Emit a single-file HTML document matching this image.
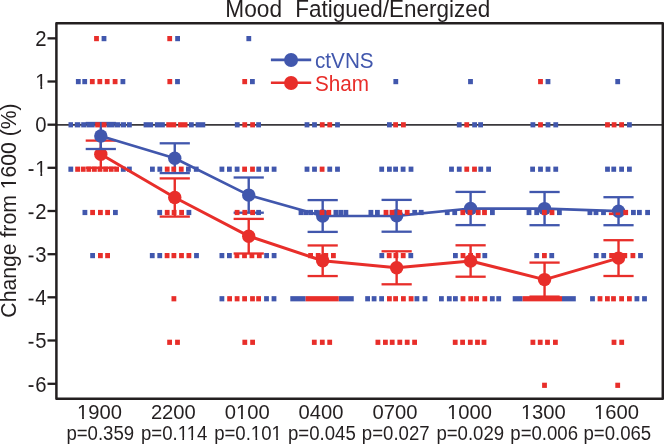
<!DOCTYPE html><html><head><meta charset="utf-8"><style>html,body{margin:0;padding:0;background:#fff;}svg{display:block;will-change:transform;}text{font-family:"Liberation Sans",sans-serif;}</style></head><body>
<svg width="664" height="444" viewBox="0 0 664 444">
<rect width="664" height="444" fill="#fff"/>
<text transform="translate(225.3,16.5) scale(1,1.07)" font-size="22.7" fill="#231f20">Mood</text>
<text transform="translate(295.2,16.5) scale(1,1.07)" font-size="22.5" fill="#231f20">Fatigued/Energized</text>
<line x1="56" y1="124.85" x2="663" y2="124.85" stroke="#3a383c" stroke-width="1.6"/>
<rect x="101.60" y="36.00" width="4.8" height="5.2" fill="#4157ad"/>
<rect x="75.90" y="79.00" width="4.8" height="5.2" fill="#4157ad"/>
<rect x="82.30" y="79.00" width="4.8" height="5.2" fill="#4157ad"/>
<rect x="120.50" y="79.00" width="4.8" height="5.2" fill="#4157ad"/>
<rect x="68.40" y="166.60" width="4.8" height="5.2" fill="#4157ad"/>
<rect x="120.90" y="166.60" width="4.8" height="5.2" fill="#4157ad"/>
<rect x="127.00" y="166.60" width="4.8" height="5.2" fill="#4157ad"/>
<rect x="82.50" y="209.90" width="4.8" height="5.2" fill="#4157ad"/>
<rect x="113.00" y="209.90" width="4.8" height="5.2" fill="#4157ad"/>
<rect x="90.20" y="253.00" width="4.8" height="5.2" fill="#4157ad"/>
<rect x="175.20" y="36.00" width="4.8" height="5.2" fill="#4157ad"/>
<rect x="175.10" y="79.00" width="4.8" height="5.2" fill="#4157ad"/>
<rect x="150.00" y="166.60" width="4.8" height="5.2" fill="#4157ad"/>
<rect x="157.40" y="166.60" width="4.8" height="5.2" fill="#4157ad"/>
<rect x="186.00" y="166.60" width="4.8" height="5.2" fill="#4157ad"/>
<rect x="193.85" y="166.60" width="4.8" height="5.2" fill="#4157ad"/>
<rect x="157.30" y="209.90" width="4.8" height="5.2" fill="#4157ad"/>
<rect x="186.50" y="209.90" width="4.8" height="5.2" fill="#4157ad"/>
<rect x="149.85" y="253.00" width="4.8" height="5.2" fill="#4157ad"/>
<rect x="157.35" y="253.00" width="4.8" height="5.2" fill="#4157ad"/>
<rect x="194.10" y="253.00" width="4.8" height="5.2" fill="#4157ad"/>
<rect x="246.40" y="36.00" width="4.8" height="5.2" fill="#4157ad"/>
<rect x="250.00" y="79.00" width="4.8" height="5.2" fill="#4157ad"/>
<rect x="234.85" y="122.20" width="4.8" height="5.2" fill="#4157ad"/>
<rect x="256.20" y="122.20" width="4.8" height="5.2" fill="#4157ad"/>
<rect x="219.50" y="166.60" width="4.8" height="5.2" fill="#4157ad"/>
<rect x="227.00" y="166.60" width="4.8" height="5.2" fill="#4157ad"/>
<rect x="234.70" y="166.60" width="4.8" height="5.2" fill="#4157ad"/>
<rect x="256.35" y="166.60" width="4.8" height="5.2" fill="#4157ad"/>
<rect x="264.20" y="166.60" width="4.8" height="5.2" fill="#4157ad"/>
<rect x="271.70" y="166.60" width="4.8" height="5.2" fill="#4157ad"/>
<rect x="256.20" y="209.90" width="4.8" height="5.2" fill="#4157ad"/>
<rect x="219.50" y="253.00" width="4.8" height="5.2" fill="#4157ad"/>
<rect x="227.00" y="253.00" width="4.8" height="5.2" fill="#4157ad"/>
<rect x="264.20" y="253.00" width="4.8" height="5.2" fill="#4157ad"/>
<rect x="271.70" y="253.00" width="4.8" height="5.2" fill="#4157ad"/>
<rect x="219.50" y="296.15" width="4.8" height="5.2" fill="#4157ad"/>
<rect x="264.10" y="296.15" width="4.8" height="5.2" fill="#4157ad"/>
<rect x="271.60" y="296.15" width="4.8" height="5.2" fill="#4157ad"/>
<rect x="304.60" y="122.20" width="4.8" height="5.2" fill="#4157ad"/>
<rect x="312.10" y="122.20" width="4.8" height="5.2" fill="#4157ad"/>
<rect x="335.10" y="122.20" width="4.8" height="5.2" fill="#4157ad"/>
<rect x="304.60" y="166.60" width="4.8" height="5.2" fill="#4157ad"/>
<rect x="312.10" y="166.60" width="4.8" height="5.2" fill="#4157ad"/>
<rect x="327.35" y="166.60" width="4.8" height="5.2" fill="#4157ad"/>
<rect x="335.10" y="166.60" width="4.8" height="5.2" fill="#4157ad"/>
<rect x="298.60" y="209.90" width="4.8" height="5.2" fill="#4157ad"/>
<rect x="303.40" y="209.90" width="4.8" height="5.2" fill="#4157ad"/>
<rect x="308.20" y="209.90" width="4.8" height="5.2" fill="#4157ad"/>
<rect x="314.10" y="209.90" width="4.8" height="5.2" fill="#4157ad"/>
<rect x="333.50" y="209.90" width="4.8" height="5.2" fill="#4157ad"/>
<rect x="338.40" y="209.90" width="4.8" height="5.2" fill="#4157ad"/>
<rect x="343.50" y="209.90" width="4.8" height="5.2" fill="#4157ad"/>
<rect x="393.40" y="79.00" width="4.8" height="5.2" fill="#4157ad"/>
<rect x="387.00" y="122.20" width="4.8" height="5.2" fill="#4157ad"/>
<rect x="379.30" y="166.60" width="4.8" height="5.2" fill="#4157ad"/>
<rect x="387.00" y="166.60" width="4.8" height="5.2" fill="#4157ad"/>
<rect x="393.20" y="166.60" width="4.8" height="5.2" fill="#4157ad"/>
<rect x="400.70" y="166.60" width="4.8" height="5.2" fill="#4157ad"/>
<rect x="408.60" y="166.60" width="4.8" height="5.2" fill="#4157ad"/>
<rect x="368.50" y="209.90" width="4.8" height="5.2" fill="#4157ad"/>
<rect x="375.00" y="209.90" width="4.8" height="5.2" fill="#4157ad"/>
<rect x="412.30" y="209.90" width="4.8" height="5.2" fill="#4157ad"/>
<rect x="418.80" y="209.90" width="4.8" height="5.2" fill="#4157ad"/>
<rect x="379.40" y="253.00" width="4.8" height="5.2" fill="#4157ad"/>
<rect x="408.40" y="253.00" width="4.8" height="5.2" fill="#4157ad"/>
<rect x="365.20" y="296.15" width="4.8" height="5.2" fill="#4157ad"/>
<rect x="371.70" y="296.15" width="4.8" height="5.2" fill="#4157ad"/>
<rect x="379.20" y="296.15" width="4.8" height="5.2" fill="#4157ad"/>
<rect x="414.50" y="296.15" width="4.8" height="5.2" fill="#4157ad"/>
<rect x="422.60" y="296.15" width="4.8" height="5.2" fill="#4157ad"/>
<rect x="468.10" y="79.00" width="4.8" height="5.2" fill="#4157ad"/>
<rect x="456.85" y="122.20" width="4.8" height="5.2" fill="#4157ad"/>
<rect x="472.20" y="122.20" width="4.8" height="5.2" fill="#4157ad"/>
<rect x="478.20" y="122.20" width="4.8" height="5.2" fill="#4157ad"/>
<rect x="449.10" y="166.60" width="4.8" height="5.2" fill="#4157ad"/>
<rect x="456.85" y="166.60" width="4.8" height="5.2" fill="#4157ad"/>
<rect x="478.35" y="166.60" width="4.8" height="5.2" fill="#4157ad"/>
<rect x="486.20" y="166.60" width="4.8" height="5.2" fill="#4157ad"/>
<rect x="444.85" y="209.90" width="4.8" height="5.2" fill="#4157ad"/>
<rect x="452.30" y="209.90" width="4.8" height="5.2" fill="#4157ad"/>
<rect x="490.00" y="209.90" width="4.8" height="5.2" fill="#4157ad"/>
<rect x="453.00" y="253.00" width="4.8" height="5.2" fill="#4157ad"/>
<rect x="482.40" y="253.00" width="4.8" height="5.2" fill="#4157ad"/>
<rect x="439.00" y="296.15" width="4.8" height="5.2" fill="#4157ad"/>
<rect x="446.90" y="296.15" width="4.8" height="5.2" fill="#4157ad"/>
<rect x="453.00" y="296.15" width="4.8" height="5.2" fill="#4157ad"/>
<rect x="489.90" y="296.15" width="4.8" height="5.2" fill="#4157ad"/>
<rect x="496.30" y="296.15" width="4.8" height="5.2" fill="#4157ad"/>
<rect x="545.60" y="79.00" width="4.8" height="5.2" fill="#4157ad"/>
<rect x="530.50" y="122.20" width="4.8" height="5.2" fill="#4157ad"/>
<rect x="545.60" y="122.20" width="4.8" height="5.2" fill="#4157ad"/>
<rect x="553.35" y="122.20" width="4.8" height="5.2" fill="#4157ad"/>
<rect x="530.20" y="166.60" width="4.8" height="5.2" fill="#4157ad"/>
<rect x="538.10" y="166.60" width="4.8" height="5.2" fill="#4157ad"/>
<rect x="545.60" y="166.60" width="4.8" height="5.2" fill="#4157ad"/>
<rect x="553.35" y="166.60" width="4.8" height="5.2" fill="#4157ad"/>
<rect x="526.60" y="209.90" width="4.8" height="5.2" fill="#4157ad"/>
<rect x="534.30" y="209.90" width="4.8" height="5.2" fill="#4157ad"/>
<rect x="557.00" y="209.90" width="4.8" height="5.2" fill="#4157ad"/>
<rect x="534.30" y="253.00" width="4.8" height="5.2" fill="#4157ad"/>
<rect x="549.35" y="253.00" width="4.8" height="5.2" fill="#4157ad"/>
<rect x="615.30" y="79.00" width="4.8" height="5.2" fill="#4157ad"/>
<rect x="627.00" y="122.20" width="4.8" height="5.2" fill="#4157ad"/>
<rect x="605.10" y="166.60" width="4.8" height="5.2" fill="#4157ad"/>
<rect x="611.35" y="166.60" width="4.8" height="5.2" fill="#4157ad"/>
<rect x="619.20" y="166.60" width="4.8" height="5.2" fill="#4157ad"/>
<rect x="627.00" y="166.60" width="4.8" height="5.2" fill="#4157ad"/>
<rect x="587.50" y="209.90" width="4.8" height="5.2" fill="#4157ad"/>
<rect x="593.60" y="209.90" width="4.8" height="5.2" fill="#4157ad"/>
<rect x="601.10" y="209.90" width="4.8" height="5.2" fill="#4157ad"/>
<rect x="631.00" y="209.90" width="4.8" height="5.2" fill="#4157ad"/>
<rect x="637.00" y="209.90" width="4.8" height="5.2" fill="#4157ad"/>
<rect x="645.20" y="209.90" width="4.8" height="5.2" fill="#4157ad"/>
<rect x="593.80" y="253.00" width="4.8" height="5.2" fill="#4157ad"/>
<rect x="601.30" y="253.00" width="4.8" height="5.2" fill="#4157ad"/>
<rect x="638.10" y="253.00" width="4.8" height="5.2" fill="#4157ad"/>
<rect x="590.10" y="296.15" width="4.8" height="5.2" fill="#4157ad"/>
<rect x="634.50" y="296.15" width="4.8" height="5.2" fill="#4157ad"/>
<rect x="642.10" y="296.15" width="4.8" height="5.2" fill="#4157ad"/>
<rect x="68.50" y="122.20" width="4.50" height="5.2" fill="#4157ad"/>
<rect x="74.80" y="122.20" width="5.50" height="5.2" fill="#4157ad"/>
<rect x="81.20" y="122.20" width="5.10" height="5.2" fill="#4157ad"/>
<rect x="86.60" y="122.20" width="8.10" height="5.2" fill="#4157ad"/>
<rect x="106.80" y="122.20" width="7.30" height="5.2" fill="#4157ad"/>
<rect x="114.40" y="122.20" width="5.70" height="5.2" fill="#4157ad"/>
<rect x="120.70" y="122.20" width="5.40" height="5.2" fill="#4157ad"/>
<rect x="127.00" y="122.20" width="4.80" height="5.2" fill="#4157ad"/>
<rect x="143.60" y="122.20" width="9.50" height="5.2" fill="#4157ad"/>
<rect x="154.90" y="122.20" width="9.95" height="5.2" fill="#4157ad"/>
<rect x="189.00" y="122.20" width="4.75" height="5.2" fill="#4157ad"/>
<rect x="195.60" y="122.20" width="9.65" height="5.2" fill="#4157ad"/>
<rect x="290.30" y="296.15" width="15.30" height="5.2" fill="#4157ad"/>
<rect x="338.75" y="296.15" width="15.00" height="5.2" fill="#4157ad"/>
<rect x="512.70" y="296.15" width="9.90" height="5.2" fill="#4157ad"/>
<rect x="562.00" y="296.15" width="13.80" height="5.2" fill="#4157ad"/>
<polyline points="100.80,154.20 174.76,197.50 248.72,236.20 322.68,260.75 396.64,267.80 470.60,261.00 544.56,279.60 618.52,258.10" fill="none" stroke="#e82e2a" stroke-width="3.0" stroke-linejoin="round"/>
<line x1="100.80" y1="140.60" x2="100.80" y2="167.80" stroke="#e82e2a" stroke-width="2.4"/>
<line x1="85.70" y1="140.60" x2="115.90" y2="140.60" stroke="#e82e2a" stroke-width="2.3"/>
<line x1="85.70" y1="167.80" x2="115.90" y2="167.80" stroke="#e82e2a" stroke-width="2.3"/>
<line x1="174.76" y1="178.40" x2="174.76" y2="216.60" stroke="#e82e2a" stroke-width="2.4"/>
<line x1="159.66" y1="178.40" x2="189.86" y2="178.40" stroke="#e82e2a" stroke-width="2.3"/>
<line x1="159.66" y1="216.60" x2="189.86" y2="216.60" stroke="#e82e2a" stroke-width="2.3"/>
<line x1="248.72" y1="218.90" x2="248.72" y2="253.50" stroke="#e82e2a" stroke-width="2.4"/>
<line x1="233.62" y1="218.90" x2="263.82" y2="218.90" stroke="#e82e2a" stroke-width="2.3"/>
<line x1="233.62" y1="253.50" x2="263.82" y2="253.50" stroke="#e82e2a" stroke-width="2.3"/>
<line x1="322.68" y1="245.45" x2="322.68" y2="276.05" stroke="#e82e2a" stroke-width="2.4"/>
<line x1="307.58" y1="245.45" x2="337.78" y2="245.45" stroke="#e82e2a" stroke-width="2.3"/>
<line x1="307.58" y1="276.05" x2="337.78" y2="276.05" stroke="#e82e2a" stroke-width="2.3"/>
<line x1="396.64" y1="251.30" x2="396.64" y2="284.30" stroke="#e82e2a" stroke-width="2.4"/>
<line x1="381.54" y1="251.30" x2="411.74" y2="251.30" stroke="#e82e2a" stroke-width="2.3"/>
<line x1="381.54" y1="284.30" x2="411.74" y2="284.30" stroke="#e82e2a" stroke-width="2.3"/>
<line x1="470.60" y1="245.30" x2="470.60" y2="276.70" stroke="#e82e2a" stroke-width="2.4"/>
<line x1="455.50" y1="245.30" x2="485.70" y2="245.30" stroke="#e82e2a" stroke-width="2.3"/>
<line x1="455.50" y1="276.70" x2="485.70" y2="276.70" stroke="#e82e2a" stroke-width="2.3"/>
<line x1="544.56" y1="262.60" x2="544.56" y2="296.60" stroke="#e82e2a" stroke-width="2.4"/>
<line x1="529.46" y1="262.60" x2="559.66" y2="262.60" stroke="#e82e2a" stroke-width="2.3"/>
<line x1="529.46" y1="296.60" x2="559.66" y2="296.60" stroke="#e82e2a" stroke-width="2.3"/>
<line x1="618.52" y1="240.20" x2="618.52" y2="276.00" stroke="#e82e2a" stroke-width="2.4"/>
<line x1="603.42" y1="240.20" x2="633.62" y2="240.20" stroke="#e82e2a" stroke-width="2.3"/>
<line x1="603.42" y1="276.00" x2="633.62" y2="276.00" stroke="#e82e2a" stroke-width="2.3"/>
<circle cx="100.80" cy="154.20" r="6.7" fill="#e82e2a"/>
<circle cx="174.76" cy="197.50" r="6.7" fill="#e82e2a"/>
<circle cx="248.72" cy="236.20" r="6.7" fill="#e82e2a"/>
<circle cx="322.68" cy="260.75" r="6.7" fill="#e82e2a"/>
<circle cx="396.64" cy="267.80" r="6.7" fill="#e82e2a"/>
<circle cx="470.60" cy="261.00" r="6.7" fill="#e82e2a"/>
<circle cx="544.56" cy="279.60" r="6.7" fill="#e82e2a"/>
<circle cx="618.52" cy="258.10" r="6.7" fill="#e82e2a"/>
<polyline points="100.80,136.00 174.76,158.20 248.72,195.10 322.68,216.00 396.64,215.80 470.60,208.50 544.56,208.60 618.52,211.20" fill="none" stroke="#4157ad" stroke-width="2.7" stroke-linejoin="round"/>
<line x1="100.80" y1="123.00" x2="100.80" y2="149.00" stroke="#4157ad" stroke-width="2.4"/>
<line x1="85.70" y1="123.00" x2="115.90" y2="123.00" stroke="#4157ad" stroke-width="2.3"/>
<line x1="85.70" y1="149.00" x2="115.90" y2="149.00" stroke="#4157ad" stroke-width="2.3"/>
<line x1="174.76" y1="143.30" x2="174.76" y2="173.10" stroke="#4157ad" stroke-width="2.4"/>
<line x1="159.66" y1="143.30" x2="189.86" y2="143.30" stroke="#4157ad" stroke-width="2.3"/>
<line x1="159.66" y1="173.10" x2="189.86" y2="173.10" stroke="#4157ad" stroke-width="2.3"/>
<line x1="248.72" y1="177.50" x2="248.72" y2="212.70" stroke="#4157ad" stroke-width="2.4"/>
<line x1="233.62" y1="177.50" x2="263.82" y2="177.50" stroke="#4157ad" stroke-width="2.3"/>
<line x1="233.62" y1="212.70" x2="263.82" y2="212.70" stroke="#4157ad" stroke-width="2.3"/>
<line x1="322.68" y1="200.10" x2="322.68" y2="231.90" stroke="#4157ad" stroke-width="2.4"/>
<line x1="307.58" y1="200.10" x2="337.78" y2="200.10" stroke="#4157ad" stroke-width="2.3"/>
<line x1="307.58" y1="231.90" x2="337.78" y2="231.90" stroke="#4157ad" stroke-width="2.3"/>
<line x1="396.64" y1="199.90" x2="396.64" y2="231.70" stroke="#4157ad" stroke-width="2.4"/>
<line x1="381.54" y1="199.90" x2="411.74" y2="199.90" stroke="#4157ad" stroke-width="2.3"/>
<line x1="381.54" y1="231.70" x2="411.74" y2="231.70" stroke="#4157ad" stroke-width="2.3"/>
<line x1="470.60" y1="191.90" x2="470.60" y2="225.10" stroke="#4157ad" stroke-width="2.4"/>
<line x1="455.50" y1="191.90" x2="485.70" y2="191.90" stroke="#4157ad" stroke-width="2.3"/>
<line x1="455.50" y1="225.10" x2="485.70" y2="225.10" stroke="#4157ad" stroke-width="2.3"/>
<line x1="544.56" y1="192.00" x2="544.56" y2="225.20" stroke="#4157ad" stroke-width="2.4"/>
<line x1="529.46" y1="192.00" x2="559.66" y2="192.00" stroke="#4157ad" stroke-width="2.3"/>
<line x1="529.46" y1="225.20" x2="559.66" y2="225.20" stroke="#4157ad" stroke-width="2.3"/>
<line x1="618.52" y1="197.20" x2="618.52" y2="225.20" stroke="#4157ad" stroke-width="2.4"/>
<line x1="603.42" y1="197.20" x2="633.62" y2="197.20" stroke="#4157ad" stroke-width="2.3"/>
<line x1="603.42" y1="225.20" x2="633.62" y2="225.20" stroke="#4157ad" stroke-width="2.3"/>
<circle cx="100.80" cy="136.00" r="6.7" fill="#4157ad"/>
<circle cx="174.76" cy="158.20" r="6.7" fill="#4157ad"/>
<circle cx="248.72" cy="195.10" r="6.7" fill="#4157ad"/>
<circle cx="322.68" cy="216.00" r="6.7" fill="#4157ad"/>
<circle cx="396.64" cy="215.80" r="6.7" fill="#4157ad"/>
<circle cx="470.60" cy="208.50" r="6.7" fill="#4157ad"/>
<circle cx="544.56" cy="208.60" r="6.7" fill="#4157ad"/>
<circle cx="618.52" cy="211.20" r="6.7" fill="#4157ad"/>
<rect x="94.10" y="36.00" width="4.8" height="5.2" fill="#e82e2a"/>
<rect x="89.90" y="79.00" width="4.8" height="5.2" fill="#e82e2a"/>
<rect x="97.40" y="79.00" width="4.8" height="5.2" fill="#e82e2a"/>
<rect x="104.80" y="79.00" width="4.8" height="5.2" fill="#e82e2a"/>
<rect x="112.70" y="79.00" width="4.8" height="5.2" fill="#e82e2a"/>
<rect x="75.20" y="166.60" width="4.8" height="5.2" fill="#e82e2a"/>
<rect x="80.80" y="166.60" width="4.8" height="5.2" fill="#e82e2a"/>
<rect x="86.40" y="166.60" width="4.8" height="5.2" fill="#e82e2a"/>
<rect x="92.00" y="166.60" width="4.8" height="5.2" fill="#e82e2a"/>
<rect x="97.60" y="166.60" width="4.8" height="5.2" fill="#e82e2a"/>
<rect x="103.20" y="166.60" width="4.8" height="5.2" fill="#e82e2a"/>
<rect x="108.80" y="166.60" width="4.8" height="5.2" fill="#e82e2a"/>
<rect x="114.20" y="166.60" width="4.8" height="5.2" fill="#e82e2a"/>
<rect x="90.20" y="209.90" width="4.8" height="5.2" fill="#e82e2a"/>
<rect x="98.00" y="209.90" width="4.8" height="5.2" fill="#e82e2a"/>
<rect x="105.20" y="209.90" width="4.8" height="5.2" fill="#e82e2a"/>
<rect x="98.00" y="253.00" width="4.8" height="5.2" fill="#e82e2a"/>
<rect x="105.20" y="253.00" width="4.8" height="5.2" fill="#e82e2a"/>
<rect x="167.30" y="36.00" width="4.8" height="5.2" fill="#e82e2a"/>
<rect x="167.40" y="79.00" width="4.8" height="5.2" fill="#e82e2a"/>
<rect x="164.80" y="166.60" width="4.8" height="5.2" fill="#e82e2a"/>
<rect x="171.35" y="166.60" width="4.8" height="5.2" fill="#e82e2a"/>
<rect x="178.85" y="166.60" width="4.8" height="5.2" fill="#e82e2a"/>
<rect x="164.80" y="209.90" width="4.8" height="5.2" fill="#e82e2a"/>
<rect x="171.70" y="209.90" width="4.8" height="5.2" fill="#e82e2a"/>
<rect x="179.20" y="209.90" width="4.8" height="5.2" fill="#e82e2a"/>
<rect x="164.70" y="253.00" width="4.8" height="5.2" fill="#e82e2a"/>
<rect x="171.50" y="253.00" width="4.8" height="5.2" fill="#e82e2a"/>
<rect x="179.10" y="253.00" width="4.8" height="5.2" fill="#e82e2a"/>
<rect x="186.50" y="253.00" width="4.8" height="5.2" fill="#e82e2a"/>
<rect x="171.50" y="296.15" width="4.8" height="5.2" fill="#e82e2a"/>
<rect x="167.20" y="339.70" width="4.8" height="5.2" fill="#e82e2a"/>
<rect x="175.10" y="339.70" width="4.8" height="5.2" fill="#e82e2a"/>
<rect x="242.30" y="79.00" width="4.8" height="5.2" fill="#e82e2a"/>
<rect x="242.35" y="122.20" width="4.8" height="5.2" fill="#e82e2a"/>
<rect x="250.20" y="122.20" width="4.8" height="5.2" fill="#e82e2a"/>
<rect x="242.20" y="166.60" width="4.8" height="5.2" fill="#e82e2a"/>
<rect x="250.10" y="166.60" width="4.8" height="5.2" fill="#e82e2a"/>
<rect x="234.70" y="209.90" width="4.8" height="5.2" fill="#e82e2a"/>
<rect x="242.40" y="209.90" width="4.8" height="5.2" fill="#e82e2a"/>
<rect x="250.20" y="209.90" width="4.8" height="5.2" fill="#e82e2a"/>
<rect x="234.50" y="253.00" width="4.8" height="5.2" fill="#e82e2a"/>
<rect x="242.10" y="253.00" width="4.8" height="5.2" fill="#e82e2a"/>
<rect x="249.50" y="253.00" width="4.8" height="5.2" fill="#e82e2a"/>
<rect x="256.90" y="253.00" width="4.8" height="5.2" fill="#e82e2a"/>
<rect x="227.20" y="296.15" width="4.8" height="5.2" fill="#e82e2a"/>
<rect x="234.70" y="296.15" width="4.8" height="5.2" fill="#e82e2a"/>
<rect x="242.20" y="296.15" width="4.8" height="5.2" fill="#e82e2a"/>
<rect x="250.10" y="296.15" width="4.8" height="5.2" fill="#e82e2a"/>
<rect x="256.20" y="296.15" width="4.8" height="5.2" fill="#e82e2a"/>
<rect x="242.40" y="339.70" width="4.8" height="5.2" fill="#e82e2a"/>
<rect x="250.20" y="339.70" width="4.8" height="5.2" fill="#e82e2a"/>
<rect x="319.85" y="122.20" width="4.8" height="5.2" fill="#e82e2a"/>
<rect x="327.35" y="122.20" width="4.8" height="5.2" fill="#e82e2a"/>
<rect x="319.70" y="166.60" width="4.8" height="5.2" fill="#e82e2a"/>
<rect x="319.60" y="209.90" width="4.8" height="5.2" fill="#e82e2a"/>
<rect x="326.40" y="209.90" width="4.8" height="5.2" fill="#e82e2a"/>
<rect x="308.20" y="253.00" width="4.8" height="5.2" fill="#e82e2a"/>
<rect x="315.80" y="253.00" width="4.8" height="5.2" fill="#e82e2a"/>
<rect x="323.40" y="253.00" width="4.8" height="5.2" fill="#e82e2a"/>
<rect x="331.00" y="253.00" width="4.8" height="5.2" fill="#e82e2a"/>
<rect x="311.90" y="339.70" width="4.8" height="5.2" fill="#e82e2a"/>
<rect x="319.90" y="339.70" width="4.8" height="5.2" fill="#e82e2a"/>
<rect x="327.30" y="339.70" width="4.8" height="5.2" fill="#e82e2a"/>
<rect x="393.20" y="122.20" width="4.8" height="5.2" fill="#e82e2a"/>
<rect x="401.00" y="122.20" width="4.8" height="5.2" fill="#e82e2a"/>
<rect x="383.60" y="209.90" width="4.8" height="5.2" fill="#e82e2a"/>
<rect x="389.60" y="209.90" width="4.8" height="5.2" fill="#e82e2a"/>
<rect x="397.40" y="209.90" width="4.8" height="5.2" fill="#e82e2a"/>
<rect x="404.80" y="209.90" width="4.8" height="5.2" fill="#e82e2a"/>
<rect x="386.80" y="253.00" width="4.8" height="5.2" fill="#e82e2a"/>
<rect x="393.50" y="253.00" width="4.8" height="5.2" fill="#e82e2a"/>
<rect x="400.80" y="253.00" width="4.8" height="5.2" fill="#e82e2a"/>
<rect x="387.00" y="296.15" width="4.8" height="5.2" fill="#e82e2a"/>
<rect x="393.20" y="296.15" width="4.8" height="5.2" fill="#e82e2a"/>
<rect x="401.00" y="296.15" width="4.8" height="5.2" fill="#e82e2a"/>
<rect x="408.70" y="296.15" width="4.8" height="5.2" fill="#e82e2a"/>
<rect x="375.50" y="339.70" width="4.8" height="5.2" fill="#e82e2a"/>
<rect x="383.00" y="339.70" width="4.8" height="5.2" fill="#e82e2a"/>
<rect x="389.80" y="339.70" width="4.8" height="5.2" fill="#e82e2a"/>
<rect x="397.40" y="339.70" width="4.8" height="5.2" fill="#e82e2a"/>
<rect x="404.80" y="339.70" width="4.8" height="5.2" fill="#e82e2a"/>
<rect x="412.20" y="339.70" width="4.8" height="5.2" fill="#e82e2a"/>
<rect x="464.35" y="122.20" width="4.8" height="5.2" fill="#e82e2a"/>
<rect x="464.35" y="166.60" width="4.8" height="5.2" fill="#e82e2a"/>
<rect x="472.10" y="166.60" width="4.8" height="5.2" fill="#e82e2a"/>
<rect x="460.40" y="209.90" width="4.8" height="5.2" fill="#e82e2a"/>
<rect x="467.60" y="209.90" width="4.8" height="5.2" fill="#e82e2a"/>
<rect x="475.80" y="209.90" width="4.8" height="5.2" fill="#e82e2a"/>
<rect x="482.10" y="209.90" width="4.8" height="5.2" fill="#e82e2a"/>
<rect x="460.60" y="253.00" width="4.8" height="5.2" fill="#e82e2a"/>
<rect x="468.20" y="253.00" width="4.8" height="5.2" fill="#e82e2a"/>
<rect x="475.80" y="253.00" width="4.8" height="5.2" fill="#e82e2a"/>
<rect x="460.60" y="296.15" width="4.8" height="5.2" fill="#e82e2a"/>
<rect x="468.30" y="296.15" width="4.8" height="5.2" fill="#e82e2a"/>
<rect x="474.20" y="296.15" width="4.8" height="5.2" fill="#e82e2a"/>
<rect x="482.40" y="296.15" width="4.8" height="5.2" fill="#e82e2a"/>
<rect x="452.80" y="339.70" width="4.8" height="5.2" fill="#e82e2a"/>
<rect x="460.20" y="339.70" width="4.8" height="5.2" fill="#e82e2a"/>
<rect x="467.90" y="339.70" width="4.8" height="5.2" fill="#e82e2a"/>
<rect x="475.10" y="339.70" width="4.8" height="5.2" fill="#e82e2a"/>
<rect x="481.60" y="339.70" width="4.8" height="5.2" fill="#e82e2a"/>
<rect x="538.10" y="79.00" width="4.8" height="5.2" fill="#e82e2a"/>
<rect x="538.10" y="122.20" width="4.8" height="5.2" fill="#e82e2a"/>
<rect x="542.00" y="209.90" width="4.8" height="5.2" fill="#e82e2a"/>
<rect x="549.60" y="209.90" width="4.8" height="5.2" fill="#e82e2a"/>
<rect x="542.00" y="253.00" width="4.8" height="5.2" fill="#e82e2a"/>
<rect x="530.50" y="339.70" width="4.8" height="5.2" fill="#e82e2a"/>
<rect x="537.80" y="339.70" width="4.8" height="5.2" fill="#e82e2a"/>
<rect x="545.10" y="339.70" width="4.8" height="5.2" fill="#e82e2a"/>
<rect x="553.00" y="339.70" width="4.8" height="5.2" fill="#e82e2a"/>
<rect x="542.10" y="382.70" width="4.8" height="5.2" fill="#e82e2a"/>
<rect x="605.10" y="122.20" width="4.8" height="5.2" fill="#e82e2a"/>
<rect x="611.70" y="122.20" width="4.8" height="5.2" fill="#e82e2a"/>
<rect x="619.20" y="122.20" width="4.8" height="5.2" fill="#e82e2a"/>
<rect x="623.30" y="209.90" width="4.8" height="5.2" fill="#e82e2a"/>
<rect x="609.20" y="253.00" width="4.8" height="5.2" fill="#e82e2a"/>
<rect x="615.60" y="253.00" width="4.8" height="5.2" fill="#e82e2a"/>
<rect x="622.40" y="253.00" width="4.8" height="5.2" fill="#e82e2a"/>
<rect x="630.50" y="253.00" width="4.8" height="5.2" fill="#e82e2a"/>
<rect x="597.60" y="296.15" width="4.8" height="5.2" fill="#e82e2a"/>
<rect x="605.00" y="296.15" width="4.8" height="5.2" fill="#e82e2a"/>
<rect x="611.10" y="296.15" width="4.8" height="5.2" fill="#e82e2a"/>
<rect x="619.20" y="296.15" width="4.8" height="5.2" fill="#e82e2a"/>
<rect x="627.00" y="296.15" width="4.8" height="5.2" fill="#e82e2a"/>
<rect x="611.60" y="339.70" width="4.8" height="5.2" fill="#e82e2a"/>
<rect x="619.30" y="339.70" width="4.8" height="5.2" fill="#e82e2a"/>
<rect x="615.30" y="382.70" width="4.8" height="5.2" fill="#e82e2a"/>
<rect x="95.20" y="122.20" width="4.70" height="5.2" fill="#e82e2a"/>
<rect x="101.70" y="122.20" width="4.80" height="5.2" fill="#e82e2a"/>
<rect x="166.25" y="122.20" width="10.00" height="5.2" fill="#e82e2a"/>
<rect x="178.10" y="122.20" width="9.40" height="5.2" fill="#e82e2a"/>
<rect x="305.60" y="296.15" width="33.15" height="5.2" fill="#e82e2a"/>
<rect x="522.60" y="296.15" width="39.40" height="5.2" fill="#e82e2a"/>
<rect x="608.9" y="212.5" width="4.6" height="2.6" fill="#e82e2a"/>
<rect x="615.6" y="212.5" width="4.6" height="2.6" fill="#e82e2a"/>
<rect x="56.4" y="23.25" width="606.4" height="375.6" fill="none" stroke="#231f20" stroke-width="2.5" stroke-linejoin="round"/>
<line x1="47.5" y1="38.35" x2="56.4" y2="38.35" stroke="#231f20" stroke-width="2.3"/>
<g transform="translate(46.60,46.05) scale(1,1.08)">
<text x="-11.290" y="0" font-size="20.3" fill="#231f20">2</text>
</g>
<line x1="47.5" y1="81.5" x2="56.4" y2="81.5" stroke="#231f20" stroke-width="2.3"/>
<g transform="translate(46.60,89.20) scale(1,1.08)">
<text x="-11.290" y="0" font-size="20.3" fill="#231f20">1</text>
<rect x="-10.596" y="-2.974" width="4.401" height="3.965" fill="#fff"/>
<rect x="-4.381" y="-2.974" width="4.094" height="3.965" fill="#fff"/>
</g>
<line x1="47.5" y1="124.7" x2="56.4" y2="124.7" stroke="#231f20" stroke-width="2.3"/>
<g transform="translate(46.60,132.40) scale(1,1.08)">
<text x="-11.290" y="0" font-size="20.3" fill="#231f20">0</text>
</g>
<line x1="47.5" y1="167.8" x2="56.4" y2="167.8" stroke="#231f20" stroke-width="2.3"/>
<g transform="translate(46.60,175.50) scale(1,1.08)">
<text x="-11.290" y="0" font-size="20.3" fill="#231f20">1</text>
<rect x="-10.596" y="-2.974" width="4.401" height="3.965" fill="#fff"/>
<rect x="-4.381" y="-2.974" width="4.094" height="3.965" fill="#fff"/>
</g>
<rect x="28.6" y="169.15" width="4.9" height="1.8" fill="#231f20"/>
<line x1="47.5" y1="211.0" x2="56.4" y2="211.0" stroke="#231f20" stroke-width="2.3"/>
<g transform="translate(46.60,218.70) scale(1,1.08)">
<text x="-11.290" y="0" font-size="20.3" fill="#231f20">2</text>
</g>
<rect x="28.6" y="212.35" width="4.9" height="1.8" fill="#231f20"/>
<line x1="47.5" y1="254.2" x2="56.4" y2="254.2" stroke="#231f20" stroke-width="2.3"/>
<g transform="translate(46.60,261.90) scale(1,1.08)">
<text x="-11.290" y="0" font-size="20.3" fill="#231f20">3</text>
</g>
<rect x="28.6" y="255.55" width="4.9" height="1.8" fill="#231f20"/>
<line x1="47.5" y1="297.3" x2="56.4" y2="297.3" stroke="#231f20" stroke-width="2.3"/>
<g transform="translate(46.60,305.00) scale(1,1.08)">
<text x="-11.290" y="0" font-size="20.3" fill="#231f20">4</text>
</g>
<rect x="28.6" y="298.65" width="4.9" height="1.8" fill="#231f20"/>
<line x1="47.5" y1="340.5" x2="56.4" y2="340.5" stroke="#231f20" stroke-width="2.3"/>
<g transform="translate(46.60,348.20) scale(1,1.08)">
<text x="-11.290" y="0" font-size="20.3" fill="#231f20">5</text>
</g>
<rect x="28.6" y="341.85" width="4.9" height="1.8" fill="#231f20"/>
<line x1="47.5" y1="383.8" x2="56.4" y2="383.8" stroke="#231f20" stroke-width="2.3"/>
<g transform="translate(46.60,391.50) scale(1,1.08)">
<text x="-11.290" y="0" font-size="20.3" fill="#231f20">6</text>
</g>
<rect x="28.6" y="385.15" width="4.9" height="1.8" fill="#231f20"/>
<g transform="translate(16,210.5) rotate(-90)"><text font-size="21.2" fill="#231f20" text-anchor="middle">Change from 1600 (%)</text>
<rect x="21.913" y="-3.105" width="4.596" height="4.141" fill="#fff"/>
<rect x="28.403" y="-3.105" width="4.275" height="4.141" fill="#fff"/></g>
<g transform="translate(99.50,419.30) scale(1,1.0)">
<text x="-22.469" y="0" font-size="20.2" fill="#231f20">1900</text>
<rect x="-21.778" y="-2.959" width="4.379" height="3.945" fill="#fff"/>
<rect x="-15.594" y="-2.959" width="4.074" height="3.945" fill="#fff"/>
</g>
<g transform="translate(100.30,440.30) scale(1,1.07)">
<text x="-33.876" y="0" font-size="18.6" fill="#231f20">p=0.359</text>
</g>
<g transform="translate(173.36,419.30) scale(1,1.0)">
<text x="-22.469" y="0" font-size="20.2" fill="#231f20">2200</text>
</g>
<g transform="translate(174.16,440.30) scale(1,1.07)">
<text x="-33.186" y="0" font-size="18.6" fill="#231f20">p=0.114</text>
<rect x="4.169" y="-2.725" width="4.032" height="3.633" fill="#fff"/>
<rect x="9.863" y="-2.725" width="3.751" height="3.633" fill="#fff"/>
<rect x="13.133" y="-2.725" width="4.032" height="3.633" fill="#fff"/>
<rect x="18.827" y="-2.725" width="3.751" height="3.633" fill="#fff"/>
</g>
<g transform="translate(247.22,419.30) scale(1,1.0)">
<text x="-22.469" y="0" font-size="20.2" fill="#231f20">0100</text>
<rect x="-10.544" y="-2.959" width="4.379" height="3.945" fill="#fff"/>
<rect x="-4.360" y="-2.959" width="4.074" height="3.945" fill="#fff"/>
</g>
<g transform="translate(248.02,440.30) scale(1,1.07)">
<text x="-33.876" y="0" font-size="18.6" fill="#231f20">p=0.101</text>
<rect x="3.478" y="-2.725" width="4.032" height="3.633" fill="#fff"/>
<rect x="9.173" y="-2.725" width="3.751" height="3.633" fill="#fff"/>
<rect x="24.167" y="-2.725" width="4.032" height="3.633" fill="#fff"/>
<rect x="29.862" y="-2.725" width="3.751" height="3.633" fill="#fff"/>
</g>
<g transform="translate(321.08,419.30) scale(1,1.0)">
<text x="-22.469" y="0" font-size="20.2" fill="#231f20">0400</text>
</g>
<g transform="translate(321.88,440.30) scale(1,1.07)">
<text x="-33.876" y="0" font-size="18.6" fill="#231f20">p=0.045</text>
</g>
<g transform="translate(394.94,419.30) scale(1,1.0)">
<text x="-22.469" y="0" font-size="20.2" fill="#231f20">0700</text>
</g>
<g transform="translate(395.74,440.30) scale(1,1.07)">
<text x="-33.876" y="0" font-size="18.6" fill="#231f20">p=0.027</text>
</g>
<g transform="translate(469.50,419.30) scale(1,1.0)">
<text x="-22.469" y="0" font-size="20.2" fill="#231f20">1000</text>
<rect x="-21.778" y="-2.959" width="4.379" height="3.945" fill="#fff"/>
<rect x="-15.594" y="-2.959" width="4.074" height="3.945" fill="#fff"/>
</g>
<g transform="translate(470.30,440.30) scale(1,1.07)">
<text x="-33.876" y="0" font-size="18.6" fill="#231f20">p=0.029</text>
</g>
<g transform="translate(543.36,419.30) scale(1,1.0)">
<text x="-22.469" y="0" font-size="20.2" fill="#231f20">1300</text>
<rect x="-21.778" y="-2.959" width="4.379" height="3.945" fill="#fff"/>
<rect x="-15.594" y="-2.959" width="4.074" height="3.945" fill="#fff"/>
</g>
<g transform="translate(544.16,440.30) scale(1,1.07)">
<text x="-33.876" y="0" font-size="18.6" fill="#231f20">p=0.006</text>
</g>
<g transform="translate(616.52,419.30) scale(1,1.0)">
<text x="-22.469" y="0" font-size="20.2" fill="#231f20">1600</text>
<rect x="-21.778" y="-2.959" width="4.379" height="3.945" fill="#fff"/>
<rect x="-15.594" y="-2.959" width="4.074" height="3.945" fill="#fff"/>
</g>
<g transform="translate(617.32,440.30) scale(1,1.07)">
<text x="-33.876" y="0" font-size="18.6" fill="#231f20">p=0.065</text>
</g>
<line x1="270.9" y1="59.9" x2="311.2" y2="59.9" stroke="#4157ad" stroke-width="2.6"/>
<circle cx="291.05" cy="59.95" r="7" fill="#4157ad"/>
<line x1="270.9" y1="82.75" x2="311.2" y2="82.75" stroke="#e82e2a" stroke-width="2.6"/>
<circle cx="291.05" cy="83.05" r="7" fill="#e82e2a"/>
<text transform="translate(315,67.5) scale(1,1.08)" font-size="20.7" fill="#4157ad">ctVNS</text>
<text transform="translate(315,90.7) scale(1,1.08)" font-size="20.7" fill="#e82e2a">Sham</text>
</svg></body></html>
